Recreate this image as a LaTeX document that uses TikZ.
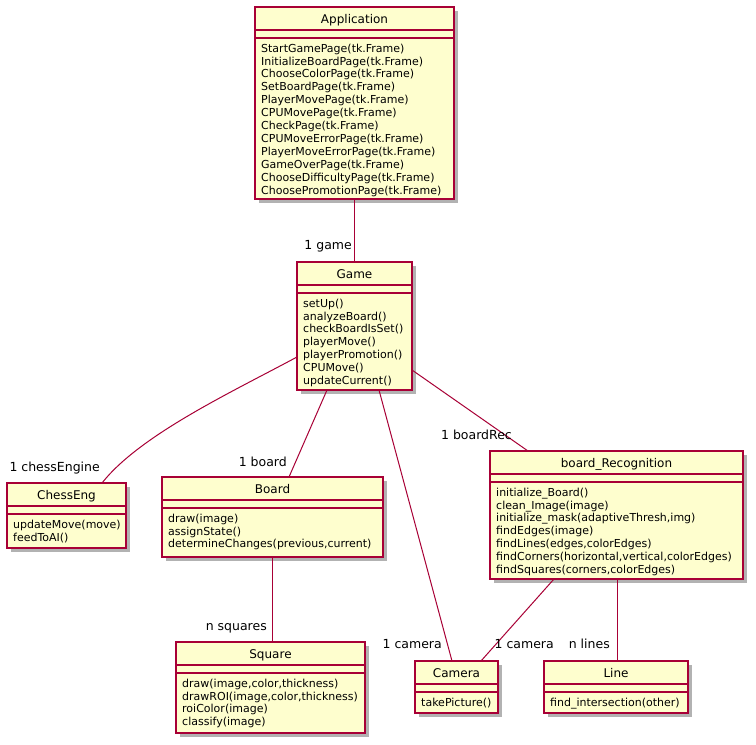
\documentclass[tikz,border=0pt]{standalone}
\usepackage{fontspec}
\setmainfont{DejaVu Sans}
\usetikzlibrary{calc,shadows}
\definecolor{umlfill}{RGB}{254,254,206}
\definecolor{umlred}{RGB}{168,0,54}
\tikzset{
  classbox/.style={draw=umlred, fill=umlfill, line width=1.4pt, rectangle, inner sep=0pt, outer sep=0pt,
    drop shadow={shadow xshift=3.5pt, shadow yshift=-3.5pt, opacity=0.3, fill=black}},
  classline/.style={draw=umlred, line width=1.4pt},
  titletext/.style={inner sep=0pt, font=\fontsize{12}{14}\selectfont},
  membertext/.style={inner sep=0pt, align=left, font=\fontsize{11}{12.9}\selectfont},
  lbl/.style={inner sep=0pt, font=\fontsize{12.5}{14}\selectfont},
  conn/.style={draw=umlred, line width=1pt}
}
\newcommand\umlclass[7]{%
  \pgfmathsetmacro\uw{#4-#2}\pgfmathsetmacro\uh{#5-#3}%
  \node[classbox, minimum width=\uw pt, minimum height=\uh pt, anchor=north west] (#1) at (#2,#3) {};
  \draw[classline] (#2,#3+23) -- (#4,#3+23) (#2,#3+31) -- (#4,#3+31);
  \node[titletext, anchor=base] at ({(#2+#4)/2},#3+16) {#6};
  \node[membertext, anchor=north west] at (#2+6,#3+36.6) {#7};
}
\begin{document}
\begin{tikzpicture}[x=1pt,y=-1pt]
\fill[white] (0,0) rectangle (756,745);
\useasboundingbox (0,0) rectangle (756,745);

\umlclass{app}{255}{7}{454}{199}{Application}{StartGamePage(tk.Frame)\\InitializeBoardPage(tk.Frame)\\ChooseColorPage(tk.Frame)\\SetBoardPage(tk.Frame)\\PlayerMovePage(tk.Frame)\\CPUMovePage(tk.Frame)\\CheckPage(tk.Frame)\\CPUMoveErrorPage(tk.Frame)\\PlayerMoveErrorPage(tk.Frame)\\GameOverPage(tk.Frame)\\ChooseDifficultyPage(tk.Frame)\\ChoosePromotionPage(tk.Frame)}
\umlclass{game}{297}{262}{412}{390}{Game}{setUp()\\analyzeBoard()\\checkBoardIsSet()\\playerMove()\\playerPromotion()\\CPUMove()\\updateCurrent()}
\umlclass{chess}{7}{483}{126}{548}{ChessEng}{updateMove(move)\\feedToAI()}
\umlclass{board}{162}{477}{383}{557}{Board}{draw(image)\\assignState()\\determineChanges(previous,current)}
\umlclass{boardrec}{490}{451}{743}{579}{board\_Recognition}{initialize\_Board()\\clean\_Image(image)\\initialize\_mask(adaptiveThresh,img)\\findEdges(image)\\findLines(edges,colorEdges)\\findCorners(horizontal,vertical,colorEdges)\\findSquares(corners,colorEdges)}
\umlclass{square}{176}{642}{365}{733}{Square}{draw(image,color,thickness)\\drawROI(image,color,thickness)\\roiColor(image)\\classify(image)}
\umlclass{camera}{415}{661}{498}{713}{Camera}{takePicture()}
\umlclass{linecls}{544}{661}{688}{713}{Line}{find\_intersection(other)}

\draw[conn] (app.south) -- (game.north);
\draw[conn] ($(game.north west)+(0,95)$) .. controls (230,393) and (140,435) .. ($(chess.north west)+(95,0)$);
\draw[conn] ($(game.south west)+(30,0)$) -- ($(board.north west)+(127,0)$);
\draw[conn] ($(game.south west)+(82,0)$) -- ($(camera.north west)+(37,0)$);
\draw[conn] ($(game.north east)+(0,108)$) -- ($(boardrec.north west)+(38,0)$);
\draw[conn] ($(boardrec.south west)+(64,0)$) -- ($(camera.north west)+(66,0)$);
\draw[conn] ($(boardrec.south west)+(127,0)$) -- ($(linecls.north west)+(73,0)$);
\draw[conn] ($(board.south west)+(110,0)$) -- ($(square.north west)+(96,0)$);

\node[lbl, anchor=base east] (l1) at (352,249) {1 game};
\node[lbl, anchor=base east] (l2) at (100,471) {1 chessEngine};
\node[lbl, anchor=base east] (l3) at (287,466) {1 board};
\node[lbl, anchor=base east] (l4) at (512,439) {1 boardRec};
\node[lbl, anchor=base east] (l5) at (267,630) {n squares};
\node[lbl, anchor=base east] (l6) at (442,648) {1 camera};
\node[lbl, anchor=base east] (l7) at (554,648) {1 camera};
\node[lbl, anchor=base east] (l8) at (610,648) {n lines};
\end{tikzpicture}
\end{document}
